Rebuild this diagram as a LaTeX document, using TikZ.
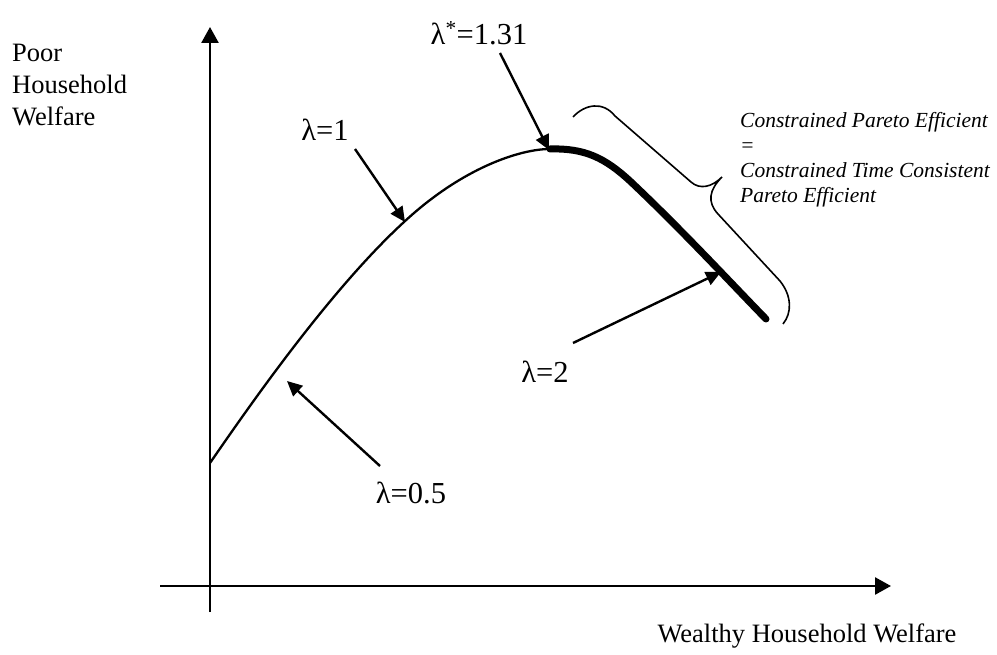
\documentclass[tikz,border=0pt]{standalone}
\usepackage{fontspec}
\setmainfont{Liberation Serif}
\usetikzlibrary{arrows.meta}
\begin{document}
\begin{tikzpicture}[x=1pt,y=-1pt,
  axis/.style={line width=2.6pt,-{Triangle[length=16pt,width=17pt]}},
  pointer/.style={line width=2.4pt,-{Triangle[length=15pt,width=14pt]}},
  lbl/.style={inner sep=0pt,font=\fontsize{30.5}{36}\selectfont},
  axlbl/.style={inner sep=0pt,align=left,font=\fontsize{26.5}{32}\selectfont},
  note/.style={inner sep=0pt,align=left,font=\fontsize{21.5}{25}\selectfont\itshape}]
\useasboundingbox (0,0) rectangle (997,655);
% axes
\coordinate (ybot) at (210,612);
\coordinate (ytop) at (210,27);
\coordinate (xl) at (160,586);
\coordinate (xr) at (891,586);
\draw[axis] (ybot) -- (ytop);
\draw[axis] (xl) -- (xr);
% axis labels
\node[axlbl,anchor=west] (ylab) at (12,85) {Poor\\Household\\Welfare};
\node[axlbl] (xlab) at (807,636) {Wealthy Household Welfare};
% frontier
\coordinate (c0) at (210,463);
\coordinate (c1) at (404,222);
\coordinate (c2) at (550,149);
\coordinate (c3) at (630,181);
\coordinate (c4) at (766,319);
\draw[line width=2.3pt] (c0) .. controls (250,405) and (330,290) .. (c1) .. controls (462,168) and (520,149) .. (c2);
\draw[line width=7pt,line cap=round] (c2) .. controls (585,148) and (605,158) .. (c3) .. controls (680,228) and (730,282) .. (c4);
% brace
\draw[line width=1.6pt] (573,117) .. controls (585,104) and (603,101) .. (615,116) -- (691,182) .. controls (700,190) and (712,187) .. (722,177) .. controls (709,190) and (707,202) .. (718,214) -- (780,281) .. controls (792,296) and (792,313) .. (783,324);
% labels
\node[lbl] (l1) at (325,130) {λ=1};
\node[lbl] (l05) at (411,493) {λ=0.5};
\node[lbl] (l2) at (545,372) {λ=2};
\node[lbl] (lstar) at (479,33) {λ\textsuperscript{*}=1.31};
\node[note,anchor=west] (cpe) at (740,160) {Constrained Pareto Efficient\\=\\Constrained Time Consistent\\Pareto Efficient};
% pointers
\coordinate (t1) at (355,149); \coordinate (h1) at (405,222);
\coordinate (t05) at (380,466); \coordinate (h05) at (287,381);
\coordinate (t2) at (573,343); \coordinate (h2) at (721,272);
\coordinate (ts) at (500,53); \coordinate (hs) at (549,150);
\draw[pointer] (t1) -- (h1);
\draw[pointer] (t05) -- (h05);
\draw[pointer] (t2) -- (h2);
\draw[pointer] (ts) -- (hs);
\end{tikzpicture}
\end{document}
